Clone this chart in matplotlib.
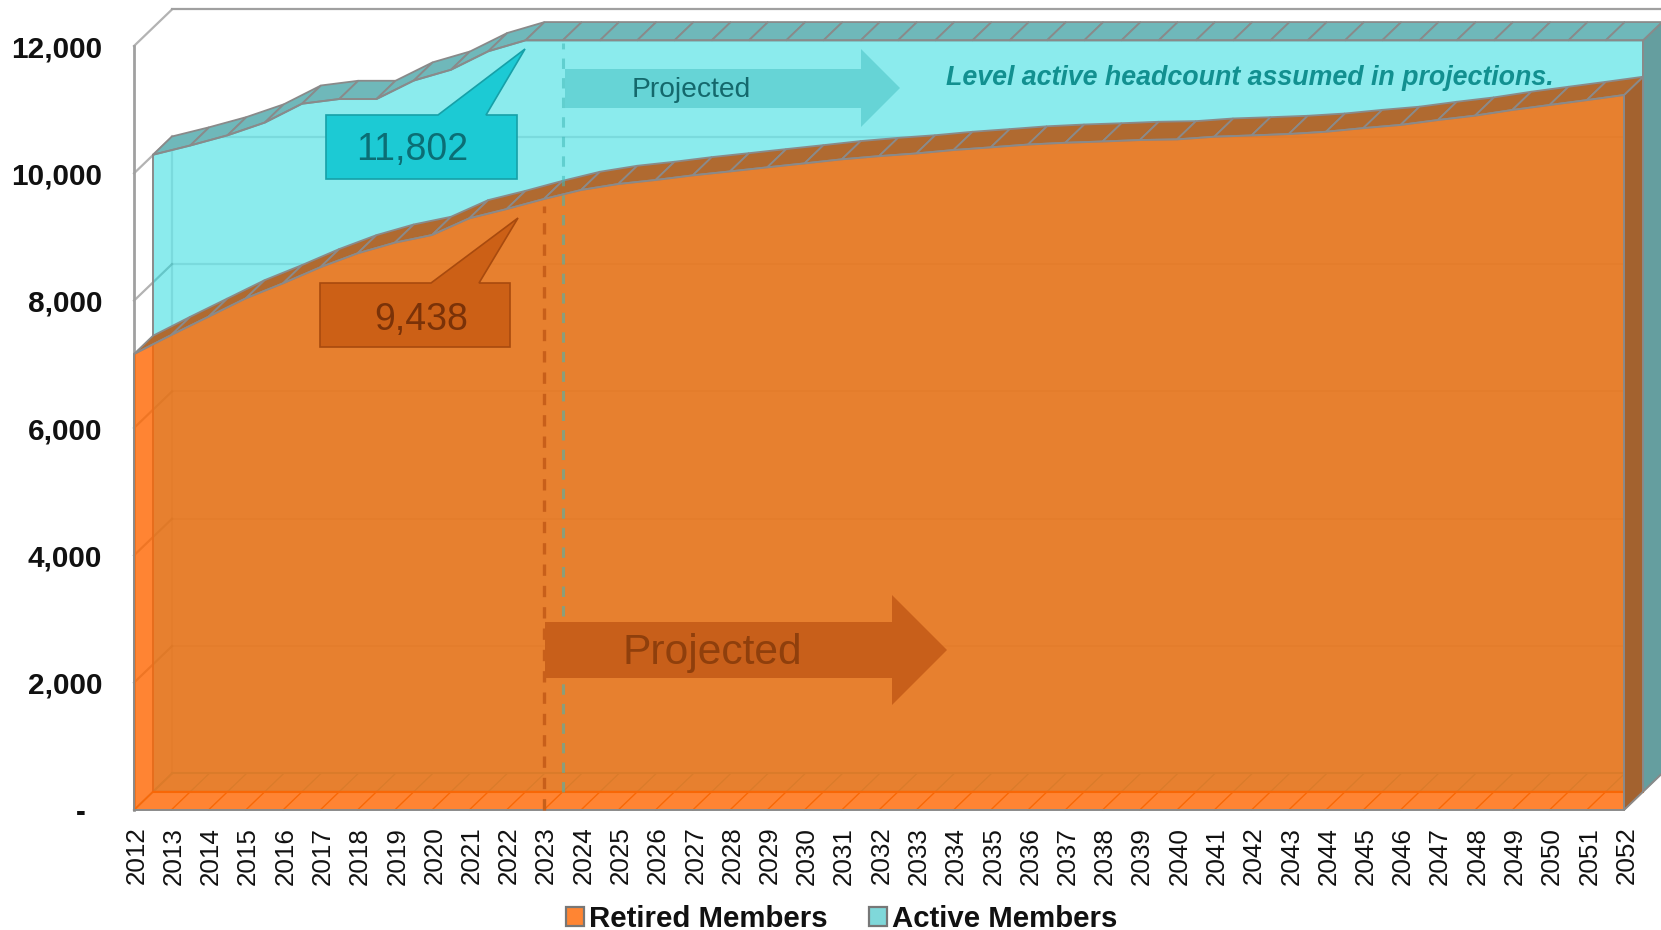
import matplotlib
matplotlib.use("Agg")
import matplotlib.pyplot as plt
from matplotlib.patches import Patch, Polygon
from matplotlib.transforms import ScaledTranslation

plt.rcParams["font.family"] = ["Liberation Sans", "DejaVu Sans"]

years = list(range(2012, 2053))
retired = [7162, 7460, 7748, 8036, 8272, 8524, 8743, 8910, 9031, 9293, 9438,
           9596, 9738, 9832, 9895, 9968, 10030, 10094, 10156, 10220, 10270,
           10312, 10366, 10408, 10452, 10480, 10500, 10523, 10533, 10575, 10595,
           10617, 10653, 10710, 10760, 10837, 10906, 10995, 11073, 11150, 11230]
active = [10005, 10150, 10310, 10510, 10806, 10880, 10880, 11170, 11340, 11630, 11802,
          11802, 11802, 11802, 11802, 11802, 11802, 11802, 11802, 11802, 11802,
          11802, 11802, 11802, 11802, 11802, 11802, 11802, 11802, 11802, 11802,
          11802, 11802, 11802, 11802, 11802, 11802, 11802, 11802, 11802, 11802]
y_ticks = [0, 2000, 4000, 6000, 8000, 10000, 12000]
y_labels = ["-  ", "2,000", "4,000", "6,000", "8,000", "10,000", "12,000"]

W, H = 1661, 930
GREY = "#8a8a8a"
DEPTH_X = 0.51   # years per depth step
DEPTH_Y = 287    # headcount per depth step


def pt(year, value, depth):
    return (year + depth * DEPTH_X, value + depth * DEPTH_Y)


def draw_series(ax, values, depth, face, alpha, top, side, floor_line, z):
    x0, x1 = years[0], years[-1]
    # floor strip lines
    for y in years:
        ax.plot(*zip(pt(y, 0, depth), pt(y, 0, depth + 1)), color=floor_line,
                lw=1.0, zorder=z, clip_on=False)
    ax.plot(*zip(pt(x0, 0, depth + 1), pt(x1, 0, depth + 1)), color=floor_line,
            lw=1.5, zorder=z, clip_on=False)
    # right hand side of the slab
    ax.add_patch(Polygon([pt(x1, 0, depth), pt(x1, values[-1], depth),
                          pt(x1, values[-1], depth + 1), pt(x1, 0, depth + 1)],
                         fc=side, ec=GREY, lw=1.4, zorder=z + 0.1, clip_on=False))
    # top surface, one facet per year
    for i in range(len(years) - 1):
        ax.add_patch(Polygon([pt(years[i], values[i], depth), pt(years[i + 1], values[i + 1], depth),
                              pt(years[i + 1], values[i + 1], depth + 1), pt(years[i], values[i], depth + 1)],
                             fc=top, ec=GREY, lw=1.3, zorder=z + 0.2, clip_on=False))
    # front face
    outline = [pt(x0, 0, depth)] + [pt(y, v, depth) for y, v in zip(years, values)] + [pt(x1, 0, depth)]
    ax.add_patch(Polygon(outline, fc=matplotlib.colors.to_rgba(face, alpha),
                         ec=GREY, lw=1.4, zorder=z + 0.3, clip_on=False))


fig = plt.figure(figsize=(W / 100, H / 100), dpi=100)
ax = fig.add_axes([134 / W, 1 - 810 / H, (1624 - 134) / W, (810 - 46) / H])
ax.set_xlim(years[0], years[-1])
ax.set_ylim(0, 12000)
for s in ax.spines.values():
    s.set_visible(False)
ax.patch.set_visible(False)

ax.set_xticks(years)
ax.set_xticklabels(years, rotation=90, fontsize=18.7, color="#111111")
ax.set_yticks(y_ticks)
ax.set_yticklabels(y_labels, fontsize=21.4, fontweight="bold", color="#111111")
ax.tick_params(axis="both", length=0)
ax.tick_params(axis="x", pad=12)
ax.tick_params(axis="y", pad=23)
# tick_params resets label transforms, so nudge the year labels afterwards
shift = ScaledTranslation(2.5 / 100, 0, fig.dpi_scale_trans)
for lab in ax.get_xticklabels():
    lab.set_transform(lab.get_transform() + shift)

# walls and gridlines
x0, x1 = years[0], years[-1]
for v in y_ticks:
    ax.plot(*zip(pt(x0, v, 0), pt(x0, v, 2)), color="#a0a0a0", lw=1.6, alpha=0.8, zorder=1, clip_on=False)
    ax.plot(*zip(pt(x0, v, 2), pt(x1, v, 2)), color="#a0a0a0", lw=1.6,
            alpha=1 if v == 12000 else 0.35, zorder=1, clip_on=False)
ax.plot(*zip(pt(x0, 0, 2), pt(x0, active[0], 2)), color="#a0a0a0", lw=1.6, alpha=0.35, zorder=1, clip_on=False)
ax.plot(*zip(pt(x0, 0, 0), pt(x0, 12000, 0)), color="#a0a0a0", lw=2.0, zorder=1, clip_on=False)

draw_series(ax, active, 1, "#19D9DD", 0.5, "#6FB8BA", "#659E9F", "#7fc8c8", 2)
draw_series(ax, retired, 0, "#FF6600", 0.8, "#B06A30", "#A3622F", "#DD6F20", 4)

# projection start markers
ax.plot(*zip(pt(2023, 0, 1), pt(2023, 11760, 1)), color="#3FB8B8", lw=2.2, alpha=0.55,
        ls=(0, (3.4, 3.0)), zorder=5, clip_on=False)
ax.plot([2023, 2023], [0, 9490], color="#C85F1A", lw=2.4,
        ls=(0, (3.4, 3.0)), zorder=5, clip_on=False)

# annotations are laid out in pixel space on an overlay
ov = fig.add_axes([0, 0, 1, 1], zorder=10)
ov.set_xlim(0, W)
ov.set_ylim(H, 0)
ov.axis("off")

ov.add_patch(Polygon([(326, 115), (438, 115), (525, 49), (486, 115), (517, 115), (517, 179), (326, 179)],
                     fc="#1CCAD4", ec="#16A0A8", lw=1.2))
ov.text(412, 150, "11,802", ha="center", va="center", fontsize=27, color="#0B6E75")
ov.add_patch(Polygon([(320, 283), (431, 283), (518, 218), (479, 283), (510, 283), (510, 347), (320, 347)],
                     fc="#CC6016", ec="#A84A0E", lw=1.2))
ov.text(421, 320, "9,438", ha="center", va="center", fontsize=27, color="#7A3208")

ov.add_patch(Polygon([(565, 69), (861, 69), (861, 49), (900, 88), (861, 127), (861, 108), (565, 108)],
                     fc="#66D4D6", ec="none"))
ov.text(691, 90, "Projected", ha="center", va="center", fontsize=20.3, color="#14686C")
ov.add_patch(Polygon([(545, 622), (892, 622), (892, 595), (947, 650), (892, 705), (892, 678), (545, 678)],
                     fc="#C85F1A", ec="none"))
ov.text(712, 653, "Projected", ha="center", va="center", fontsize=30.7, color="#8F3F0C")
ov.text(946, 78, "Level active headcount assumed in projections.", ha="left", va="center",
        fontsize=19.3, fontweight="bold", fontstyle="italic", color="#129090")

handles = [Patch(fc="#FF8533", ec="#777777", lw=1.6, label="Retired Members"),
           Patch(fc="#7FD8DA", ec="#777777", lw=1.6, label="Active Members")]
fig.legend(handles=handles, loc="center", bbox_to_anchor=(842 / W, 1 - 919 / H), ncol=2, frameon=False,
           prop={"size": 21.2, "weight": "bold"}, handlelength=0.61, handleheight=0.61,
           handletextpad=0.18, columnspacing=1.4, borderpad=0, labelcolor="#111111")

fig.savefig("out.png", dpi=100)
plt.close(fig)
